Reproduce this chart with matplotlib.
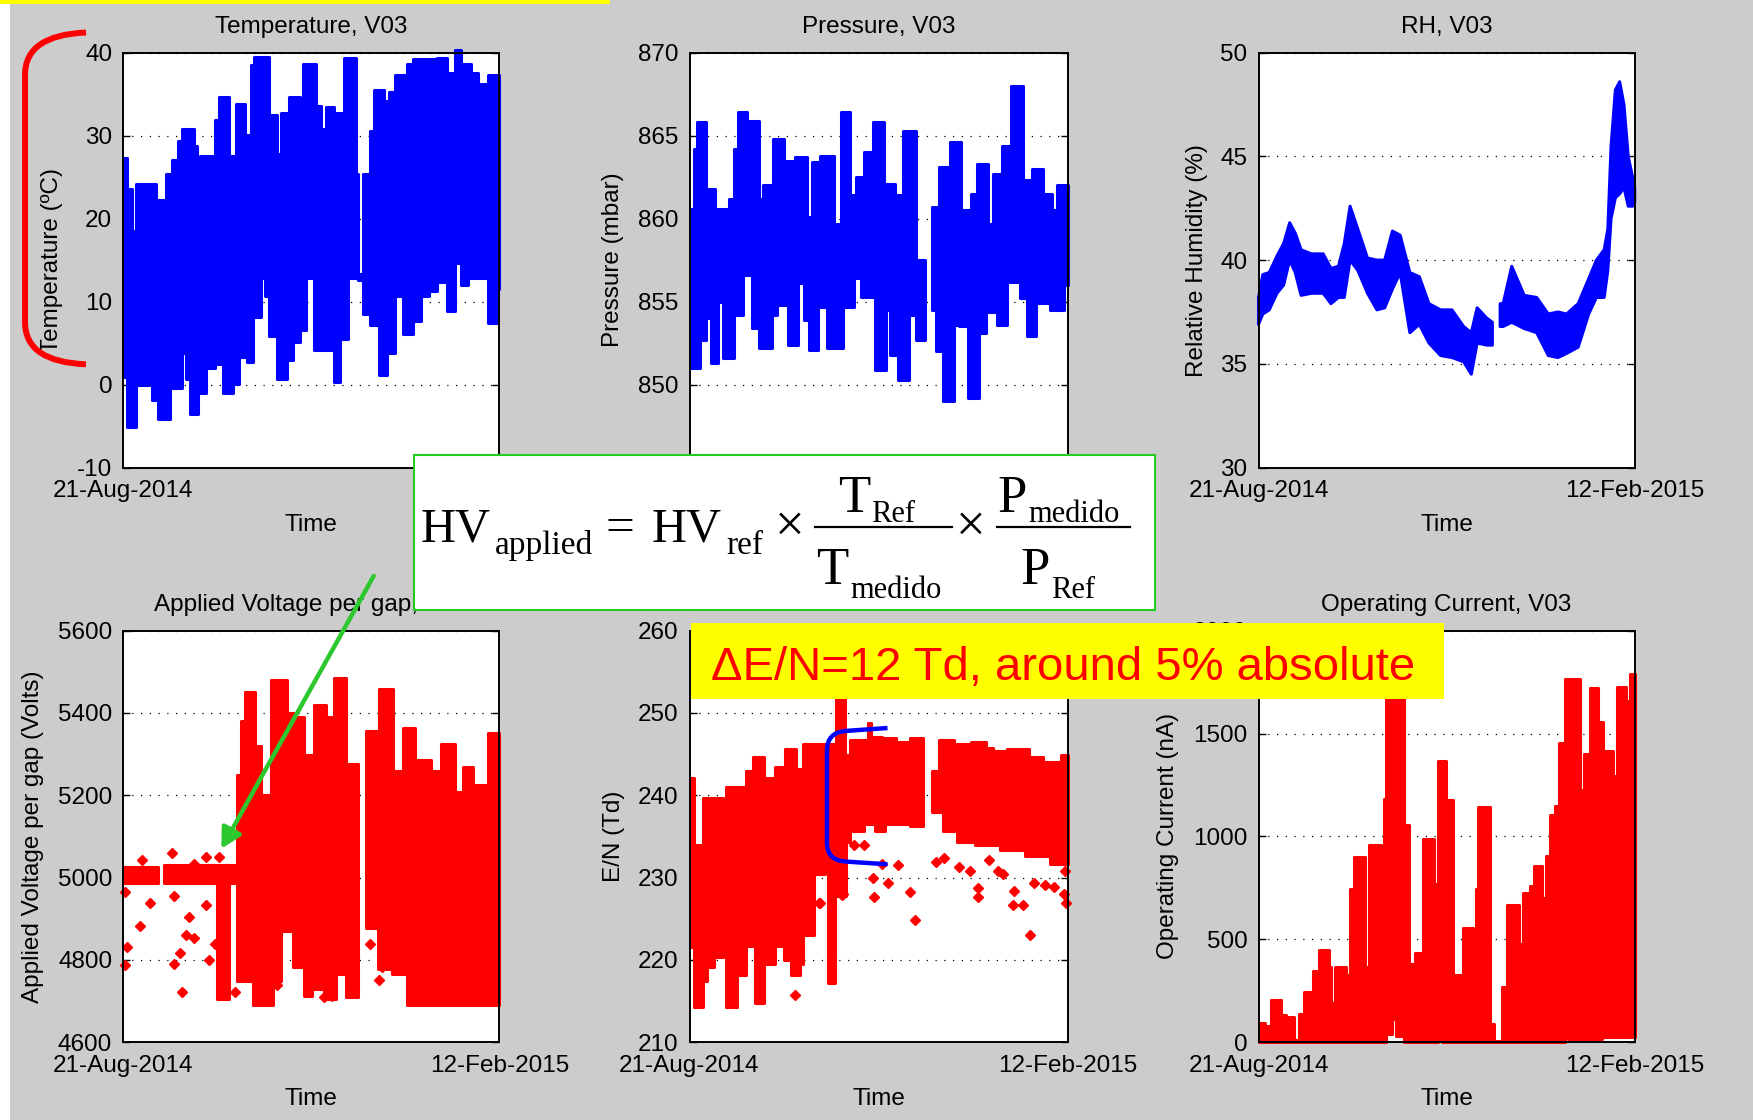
import numpy as np
import matplotlib
matplotlib.use("Agg")
import matplotlib.pyplot as plt
from matplotlib.patches import Rectangle, FancyArrowPatch, PathPatch, ArrowStyle
from matplotlib.path import Path
from matplotlib.lines import Line2D

nan = float("nan")

# ---------------------------------------------------------------- data
# x axis: days since 21-Aug-2014 (12-Feb-2015 = day 175)
n_days = 175
date_labels = ["21-Aug-2014", "12-Feb-2015"]

# (the E/N panel title is fully covered by the formula box on the slide)
titles = ["Temperature, V03", "Pressure, V03", "RH, V03",
          "Applied Voltage per gap, V03", "", "Operating Current, V03"]
ylabels = ["Temperature (ºC)", "Pressure (mbar)", "Relative Humidity (%)",
           "Applied Voltage per gap (Volts)", "E/N (Td)", "Operating Current (nA)"]
xlabel = "Time"

temp_ticks = [-10, 0, 10, 20, 30, 40]
pres_ticks = [845, 850, 855, 860, 865, 870]
rh_ticks = [30, 35, 40, 45, 50]
hv_ticks = [4600, 4800, 5000, 5200, 5400, 5600]
en_ticks = [210, 220, 230, 240, 250, 260]
cur_ticks = [0, 500, 1000, 1500, 2000]

# Temperature envelope (daily max / min), step segments
temp_up_edges = [0, 1.5, 4.2, 6.1, 15.3, 19.9, 22.5, 25.4, 27.5, 32.8, 34.2, 35.5, 42.9, 44.7,
                 49.3, 52.4, 56.7, 59.4, 61.0, 67.7, 71.4, 72.2, 72.9, 73.6, 76.9, 82.4, 83.5,
                 89.8, 92.0, 94.4, 98.1, 102.7, 108.2, 109.3, 111.7, 114.6, 116.5, 121.1, 123.8,
                 126.6, 132.1, 134.9, 145.9, 150.5, 154.2, 157.0, 161.6, 165.2, 169.8, 175]
temp_up = [27.3, 23.6, 18.5, 24.2, 22.2, 25.4, 27.1, 29.3, 30.8, 28.8, 22.6, 27.5, 31.9, 34.7,
           27.5, 33.8, 30.1, 38.5, 39.5, 32.5, 27.8, 23.6, 27.8, 32.7, 34.7, 33.0, 38.6, 33.6,
           30.8, 33.4, 32.7, 39.4, 25.4, 13.3, 25.4, 30.6, 35.5, 34.2, 35.3, 37.3, 38.6, 39.2,
           39.4, 37.5, 40.3, 38.6, 37.5, 36.2, 37.3]
temp_lo_edges = [0, 1.5, 6.1, 13.4, 16.2, 21.7, 27.2, 29.1, 30.9, 34.6, 38.3, 42.9, 46.6, 51.2,
                 53.9, 57.6, 60.4, 64.0, 65.9, 67.7, 71.4, 76.0, 78.8, 82.4, 85.2, 88.9, 98.1,
                 100.8, 104.5, 109.3, 111.7, 114.6, 119.2, 122.9, 126.6, 130.3, 134.9, 138.6,
                 142.2, 145.9, 150.5, 154.2, 157.0, 160.6, 169.8, 174.4, 175]
temp_lo = [0.9, -5.1, -0.1, -1.9, -4.2, -0.4, 3.8, 0.7, -3.6, -1.0, 2.0, 2.5, -1.0, 0.1, 3.3,
           2.7, 8.1, 12.8, 10.7, 5.9, 0.7, 2.9, 5.1, 6.6, 12.8, 4.2, 0.3, 5.5, 12.8, 12.6, 8.5,
           7.2, 1.2, 3.8, 10.7, 6.1, 7.6, 10.7, 11.3, 12.4, 8.9, 14.6, 12.0, 12.8, 7.4, 11.5]

# Pressure envelope
pres_up_edges = [0, 2.0, 3.3, 7.4, 11.6, 18.2, 20.6, 22.3, 26.4, 32.2, 33.8, 38.8, 43.8, 48.7,
                 54.5, 56.5, 60.3, 66.9, 70.2, 74.3, 76.8, 80.9, 85.0, 90.0, 94.9, 98.7, 104.8,
                 109.0, 112.3, 115.6, 120.5, 125.5, 130.4, 132.9, 137.9, 140.3, 144.5, 148.6,
                 154.4, 158.5, 163.4, 167.6, 170.1, 175]
pres_up = [860.6, 864.2, 865.8, 861.8, 860.6, 861.2, 864.2, 866.4, 865.9, 861.2, 862.0, 864.8,
           863.5, 863.7, 860.1, 863.4, 863.8, 859.7, 866.4, 861.4, 862.5, 864.0, 865.8, 862.1,
           861.4, 865.3, 857.5, nan, 860.7, 863.1, 864.6, 860.5, 861.5, 863.3, 859.7, 862.7,
           864.4, 868.0, 862.3, 863.0, 861.5, 860.5, 862.0]
pres_lo_edges = [0, 5.0, 7.4, 9.9, 13.2, 15.7, 20.6, 24.8, 28.9, 32.2, 38.0, 40.4, 45.4, 50.4,
                 52.8, 55.3, 59.4, 63.6, 71.0, 75.9, 79.2, 85.9, 90.8, 92.5, 96.6, 101.5, 104.8,
                 109.0, 112.3, 113.9, 117.2, 122.2, 124.7, 128.8, 133.7, 137.0, 142.0, 146.9,
                 152.7, 156.0, 160.1, 166.8, 173.4, 175]
pres_lo = [851.0, 852.7, 854.0, 851.3, 855.0, 851.6, 854.2, 856.6, 853.4, 852.2, 854.2, 854.8,
           852.4, 856.1, 853.9, 852.1, 854.7, 852.2, 854.7, 856.4, 855.3, 850.9, 854.5, 851.8,
           850.3, 854.2, 852.7, nan, 854.5, 852.0, 849.0, 853.6, 853.5, 849.2, 853.1, 854.4,
           853.6, 856.2, 855.2, 852.9, 854.9, 854.5, 856.0]

# Relative humidity band
rh_day = [0, 2, 5, 8.6, 11.7, 14.5, 17.1, 19.8, 24.7, 30.1, 33.7, 37.2, 39.9, 42.6, 46.2, 50.7,
          55.1, 58.7, 62.3, 65.9, 70.4, 74.8, 79.3, 84.7, 90.0, 95.4, 99.0, 101.7, 106.2, 108.8,
          110.6, 112.4, 113.8, 117.8, 123.6, 129.4, 134.8, 139.3, 143.3, 148.7, 153.6, 157.2,
          160.8, 162.5, 164.0, 166.0, 168.0, 170.0, 172.0, 174.0, 175]
rh_up = [38.2, 39.3, 39.4, 40.2, 40.8, 41.8, 41.3, 40.5, 40.3, 40.3, 39.6, 39.7, 40.8, 42.6, 41.5,
         40.1, 40.0, 40.0, 41.4, 41.2, 39.4, 39.2, 37.9, 37.6, 37.6, 36.8, 36.5, 37.7, 37.2, 37.0,
         nan, 37.9, 37.9, 39.7, 38.3, 38.2, 37.4, 37.5, 37.4, 37.9, 39.1, 40.0, 40.5, 41.5, 45.5,
         48.2, 48.6, 47.5, 45.0, 44.0, 43.5]
rh_lo = [36.9, 37.4, 37.6, 38.4, 38.8, 40.0, 39.4, 38.3, 38.4, 38.4, 37.9, 38.2, 38.2, 40.0, 39.5,
         38.4, 37.6, 37.7, 38.6, 39.4, 36.5, 36.9, 36.0, 35.4, 35.3, 35.1, 34.5, 36.0, 35.9, 35.9,
         nan, 36.8, 36.8, 37.0, 36.7, 36.5, 35.4, 35.3, 35.5, 35.8, 37.4, 38.2, 38.2, 39.5, 42.0,
         43.0, 43.2, 43.5, 42.6, 42.6, 42.8]

# Applied voltage per gap envelope + isolated points
hv_up_edges = [0, 16.2, 19.0, 53.0, 54.8, 56.7, 61.3, 64.0, 68.6, 76.0, 79.7, 84.3, 88.9, 94.4,
               98.1, 103.6, 109.1, 112.8, 119.2, 125.7, 130.3, 135.8, 143.2, 147.8, 154.2, 157.9,
               162.5, 169.8, 175]
hv_up = [5025, nan, 5030, 5250, 5381, 5451, 5320, 5200, 5481, 5399, 5390, 5299, 5420, 5390, 5485,
         5277, nan, 5355, 5459, 5260, 5364, 5286, 5260, 5325, 5208, 5268, 5225, 5351]
hv_lo_edges = [0, 16.2, 19.0, 43.8, 49.3, 53.0, 60.4, 69.6, 73.2, 78.8, 84.3, 88.0, 93.5, 99.0,
               103.6, 109.1, 112.8, 118.3, 124.8, 132.1, 175]
hv_lo = [4986, nan, 4986, 4704, 4986, 4748, 4691, 4748, 4869, 4782, 4713, 4730, 4704, 4765, 4709,
         nan, 4878, 4778, 4765, 4691]
hv_pts_day = [0.6, 1.5, 0.6, 7.9, 8.5, 12.5, 22.6, 23.6, 23.6, 26.3, 27.2, 29.1, 30.5, 32.8, 33.1,
              38.3, 38.3, 40.1, 42.9, 44.7, 52.1, 71.4, 93.5, 97.2, 114.6, 119.2, 120.2, 117.4]
hv_pts = [4787, 4830, 4965, 4882, 5043, 4939, 5060, 4956, 4791, 4817, 4722, 4860, 4904, 4852, 5034,
          5051, 4934, 4800, 4839, 5051, 4722, 4739, 4709, 4713, 4839, 4752, 4782, 4887]

# E/N envelope + isolated points
en_up_edges = [0, 2.2, 6.3, 15.4, 17.0, 26.1, 29.4, 34.4, 39.4, 44.3, 49.3, 52.6, 67.8, 72.1,
               74.2, 82.4, 84.0, 89.0, 95.6, 102.2, 108.0, 112.1, 115.4, 122.1, 130.3, 137.0,
               140.3, 146.9, 156.8, 163.4, 171.7, 175]
en_up = [242.1, 233.9, 239.7, 230.8, 241.0, 243.0, 244.7, 242.1, 243.4, 245.6, 243.2, 246.2,
         256.0, 244.9, 246.7, 248.8, 247.1, 246.9, 246.5, 246.9, nan, 243.0, 246.7, 246.2,
         246.5, 245.8, 245.4, 245.6, 244.7, 244.1, 244.9]
en_lo_edges = [0, 2.2, 6.3, 7.9, 11.2, 15.4, 17.0, 22.0, 26.1, 30.3, 34.4, 39.4, 43.5, 46.8,
               50.9, 52.6, 57.6, 62.5, 64.2, 67.5, 72.5, 74.2, 80.7, 85.7, 90.6, 102.2, 108.0,
               112.1, 117.1, 123.7, 132.0, 143.6, 155.1, 166.7, 175]
en_lo = [221.5, 214.3, 217.4, 219.1, 220.4, 223.5, 214.3, 218.2, 221.7, 214.8, 219.5, 221.7,
         220.0, 218.2, 219.5, 223.0, 230.4, 232.6, 217.2, 227.8, 234.3, 235.6, 236.5, 235.6,
         236.5, 236.3, nan, 238.0, 235.6, 234.3, 233.9, 233.4, 232.6, 231.7]
en_pts_day = [49.0, 60.0, 60.4, 70.3, 70.8, 76.1, 80.7, 84.9, 85.2, 89.0, 91.8, 96.4, 101.9, 104.4,
              113.8, 117.9, 124.5, 129.5, 133.6, 133.6, 138.6, 142.7, 145.2, 150.2, 149.4, 154.3,
              157.6, 159.3, 164.2, 168.4, 173.3, 174.2, 173.7]
en_pts = [215.7, 226.9, 226.9, 227.9, 228.0, 233.9, 233.9, 230.0, 227.6, 231.7, 229.3, 231.5,
          228.2, 224.8, 231.9, 232.4, 231.3, 230.8, 228.7, 227.6, 232.1, 230.8, 230.4, 228.4,
          226.7, 226.7, 223.0, 229.3, 229.1, 228.9, 228.0, 226.9, 230.8]

# Operating current envelope
cur_up_edges = [0, 3.2, 5.9, 10.4, 13.0, 16.6, 18.9, 21.1, 25.5, 28.2, 32.7, 33.6, 35.4, 40.7,
                42.5, 44.3, 49.7, 51.4, 56.8, 58.6, 59.5, 67.5, 70.2, 72.9, 76.4, 81.8, 83.6,
                87.2, 90.7, 95.2, 99.7, 101.4, 102.3, 107.7, 109.5, 113.1, 115.7, 121.1, 122.9,
                126.4, 128.2, 131.8, 133.6, 135.4, 138.1, 139.8, 142.5, 149.7, 151.5, 154.1,
                157.7, 160.4, 164.8, 166.6, 171.1, 172.9, 175]
cur_up = [95, 78, 207, 130, 120, 8, 138, 242, 346, 449, 363, 190, 363, 328, 743, 899, 363, 959,
          674, 1184, 1750, 1054, 380, 432, 985, 769, 1365, 1175, 328, 553, 441, 743, 1141, 86, 5,
          268, 665, 475, 726, 760, 855, 700, 907, 1106, 1149, 1452, 1763, 1227, 1400, 1720,
          1555, 1417, 1296, 1728, 1659, 1789]
cur_lo_edges = [0, 59.5, 62.0, 64.0, 67.5, 83.6, 85.5, 142.5, 144.0, 160.0, 175]
cur_lo = [0, 40, 110, 30, 0, 15, 0, 60, 15, 25]

note = "ΔE/N=12 Td, around 5% absolute"

# ---------------------------------------------------------------- drawing
W, H = 1753, 1120
FS = 17.5
BLUE, RED = "#0000ff", "#ff0000"
plt.rcParams["font.family"] = ["Liberation Sans", "DejaVu Sans"]
plt.rcParams["axes.unicode_minus"] = False

fig = plt.figure(figsize=(W / 100, H / 100), dpi=100, facecolor="#cccccc")


def fxy(x, y):
    return (x / W, 1 - y / H)


def make_axes(left, top, width, height):
    return fig.add_axes([left / W, 1 - (top + height) / H, width / W, height / H])


def step_xy(edges, vals):
    xs, ys = [], []
    for i, v in enumerate(vals):
        xs += [edges[i], edges[i + 1]]
        ys += [v, v]
    return xs, ys


def split_nan(xs, ys):
    segs, cx, cy = [], [], []
    for x, y in zip(xs, ys):
        if np.isnan(y):
            if cx:
                segs.append((np.array(cx), np.array(cy)))
            cx, cy = [], []
        else:
            cx.append(x)
            cy.append(y)
    if cx:
        segs.append((np.array(cx), np.array(cy)))
    return segs


def band(ax, ux, uy, lx, ly, color):
    for (a, b), (c, d) in zip(split_nan(ux, uy), split_nan(lx, ly)):
        ax.fill(np.r_[a, c[::-1]], np.r_[b, d[::-1]], facecolor=color, edgecolor=color,
                lw=2.2, joinstyle="round", zorder=2, clip_on=False)


def style(ax, ylim, yticks, title, ylabel, ylab_x, xtick_show=(True, True),
          show_xlabel=True, hide_bottom_ytick=False):
    ax.set_facecolor("white")
    ax.set_xlim(0, n_days)
    ax.set_ylim(*ylim)
    ax.set_xticks([0, n_days])
    ax.set_xticklabels([lab if show else "" for lab, show in zip(date_labels, xtick_show)])
    ax.set_yticks(yticks)
    ylabs = [str(t) for t in yticks]
    if hide_bottom_ytick:
        ylabs[0] = ""
    ax.set_yticklabels(ylabs)
    ax.tick_params(axis="y", direction="in", length=5, width=1, left=True, right=True,
                   labelsize=FS, pad=8, colors="black")
    ax.tick_params(axis="x", direction="in", length=0, labelsize=FS, pad=9)
    ax.yaxis.grid(True, ls=(0, (1, 6)), color="black", lw=0.9)
    for s in ax.spines.values():
        s.set_linewidth(1.4)
        s.set_zorder(3)
    if title:
        ax.set_title(title, fontsize=FS, pad=14.5)
    if show_xlabel:
        ax.set_xlabel(xlabel, fontsize=FS)
        ax.xaxis.set_label_coords(0.5, -0.112)
    ax.set_ylabel(ylabel, fontsize=FS)
    ax.yaxis.set_label_coords(ylab_x, 0.5)


boxes = [(123.3, 52.7, 376.1, 414.8), (689.5, 52.7, 378.4, 414.8), (1258.5, 52.7, 376.2, 414.8),
         (123.3, 630.7, 376.1, 411.4), (689.5, 630.7, 378.4, 411.4), (1258.5, 630.7, 376.2, 411.4)]
ylab_xs = [-0.160, -0.172, -0.135, -0.212, -0.171, -0.211]
axs = [make_axes(*b) for b in boxes]

# Temperature
ux, uy = step_xy(temp_up_edges, temp_up)
lx, ly = step_xy(temp_lo_edges, temp_lo)
band(axs[0], ux, uy, lx, ly, BLUE)
style(axs[0], (-10, 40), temp_ticks, titles[0], ylabels[0], ylab_xs[0], xtick_show=(True, False))

# Pressure (lower part hidden behind the formula box)
ux, uy = step_xy(pres_up_edges, pres_up)
lx, ly = step_xy(pres_lo_edges, pres_lo)
band(axs[1], ux, uy, lx, ly, BLUE)
style(axs[1], (845, 870), pres_ticks, titles[1], ylabels[1], ylab_xs[1],
      xtick_show=(False, False), show_xlabel=False, hide_bottom_ytick=True)

# RH
band(axs[2], rh_day, rh_up, rh_day, rh_lo, BLUE)
style(axs[2], (30, 50), rh_ticks, titles[2], ylabels[2], ylab_xs[2])

# Applied voltage
ux, uy = step_xy(hv_up_edges, hv_up)
lx, ly = step_xy(hv_lo_edges, hv_lo)
band(axs[3], ux, uy, lx, ly, RED)
axs[3].plot(hv_pts_day, hv_pts, "D", ms=5, color=RED, zorder=2, clip_on=False)
style(axs[3], (4600, 5600), hv_ticks, titles[3], ylabels[3], ylab_xs[3])

# E/N
ux, uy = step_xy(en_up_edges, en_up)
lx, ly = step_xy(en_lo_edges, en_lo)
band(axs[4], ux, uy, lx, ly, RED)
axs[4].plot(en_pts_day, en_pts, "D", ms=5, color=RED, zorder=2, clip_on=False)
style(axs[4], (210, 260), en_ticks, titles[4], ylabels[4], ylab_xs[4])

# Operating current
ux, uy = step_xy(cur_up_edges, cur_up)
lx, ly = step_xy(cur_lo_edges, cur_lo)
band(axs[5], ux, uy, lx, ly, RED)
style(axs[5], (0, 2000), cur_ticks, titles[5], ylabels[5], ylab_xs[5])

# ---------------------------------------------------------------- slide decorations
def rect_px(x0, y0, x1, y1, **kw):
    r = Rectangle(fxy(x0, y1), (x1 - x0) / W, (y1 - y0) / H, transform=fig.transFigure, **kw)
    fig.add_artist(r)
    return r


def ftext(x, y, s, size, **kw):
    fig.text(*fxy(x, y), s, fontsize=size, ha="left", va="baseline", zorder=7, **kw)


def fline(x0, x1, y):
    fig.add_artist(Line2D([x0 / W, x1 / W], [1 - y / H, 1 - y / H], transform=fig.transFigure,
                          color="black", lw=1.6, zorder=7))


rect_px(0, 0, 610, 4.3, facecolor="#ffff00", edgecolor="none", zorder=5)
rect_px(0, 4.3, 10, H, facecolor="white", edgecolor="none", zorder=5)

# formula box:  HV_applied = HV_ref x T_Ref / T_medido x P_medido / P_Ref
rect_px(414, 455, 1155, 610.4, facecolor="white", edgecolor="#22cc22", lw=1.5, zorder=5)
SERIF = ["Liberation Serif", "DejaVu Serif"]
ftext(421, 541, "HV", 35, family=SERIF)
ftext(495, 554, "applied", 24, family=SERIF)
ftext(606, 541, "=", 37, family=SERIF)
ftext(652, 541, "HV", 35, family=SERIF)
ftext(726, 554, "ref", 24, family=SERIF)
ftext(775, 541, "×", 38, family=SERIF)
fline(815, 952, 527)
ftext(838, 512, "T", 38, family=SERIF)
ftext(871, 522, "Ref", 22, family=SERIF)
ftext(816, 584, "T", 38, family=SERIF)
ftext(850, 598, "medido", 22, family=SERIF)
ftext(956, 541, "×", 38, family=SERIF)
fline(997, 1130, 527)
ftext(997, 512, "P", 38, family=SERIF)
ftext(1028, 522, "medido", 22, family=SERIF)
ftext(1020, 584, "P", 38, family=SERIF)
ftext(1051, 598, "Ref", 22, family=SERIF)

# yellow note
rect_px(691, 622.5, 1443.5, 699.3, facecolor="#ffff00", edgecolor="none", zorder=5)
ftext(710.7, 679.6, note, 34, color=RED)

# green arrow
arrow = FancyArrowPatch(fxy(373.7, 576), fxy(221.4, 848.6), transform=fig.transFigure,
                        arrowstyle=ArrowStyle("-|>", head_length=1.2, head_width=0.65),
                        mutation_scale=10, color="#2dc82d", lw=3.2, shrinkA=0, shrinkB=0,
                        zorder=6)
fig.add_artist(arrow)

# red bracket
red_path = Path([fxy(86, 32.5), fxy(25, 35), fxy(25, 75), fxy(25, 322), fxy(25, 362), fxy(86, 364.3)],
                [Path.MOVETO, Path.CURVE3, Path.CURVE3, Path.LINETO, Path.CURVE3, Path.CURVE3])
fig.add_artist(PathPatch(red_path, transform=fig.transFigure, fill=False, edgecolor=RED,
                         lw=4.3, capstyle="butt", zorder=6))

# blue bracket
blue_path = Path([fxy(887.5, 728), fxy(845, 731), fxy(827, 733), fxy(827, 750), fxy(827, 843),
                  fxy(827, 860), fxy(845, 861.5), fxy(887.5, 864.3)],
                 [Path.MOVETO, Path.LINETO, Path.CURVE3, Path.CURVE3, Path.LINETO,
                  Path.CURVE3, Path.CURVE3, Path.LINETO])
fig.add_artist(PathPatch(blue_path, transform=fig.transFigure, fill=False, edgecolor=BLUE,
                         lw=3.2, capstyle="butt", zorder=6))

fig.savefig("out.png", dpi=100, facecolor=fig.get_facecolor())
